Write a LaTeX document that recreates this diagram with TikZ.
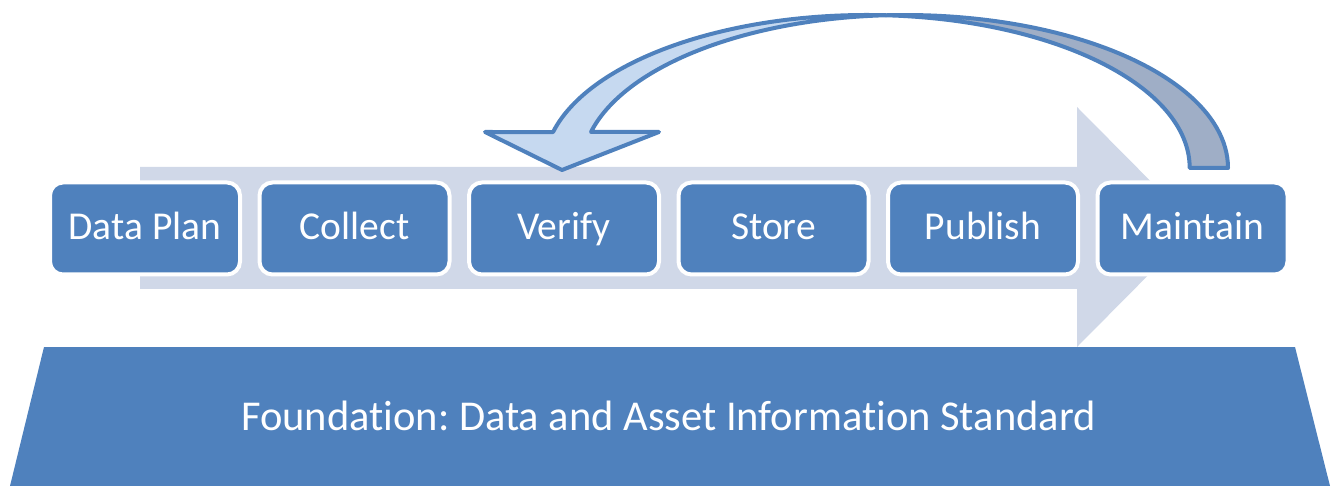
\documentclass[tikz,border=0pt]{standalone}
\usepackage{fontspec}
\setmainfont{Carlito}[Ligatures={NoCommon}]
\frenchspacing
\definecolor{boxblue}{HTML}{4F81BD}
\definecolor{bgarrow}{HTML}{D0D8E8}
\definecolor{lightarc}{HTML}{C6D9F0}
\definecolor{darkarc}{HTML}{9FAEC6}
\begin{document}
\begin{tikzpicture}[x=1pt,y=-1pt,
  stepbox/.style={rectangle, rounded corners=13pt, fill=boxblue, draw=white, line width=4pt,
    minimum width=190pt, minimum height=92pt, text=white, font=\fontsize{39.5}{47}\selectfont,
    inner sep=0pt, text height=30pt, text depth=7pt},
  ribbon/.style={draw=boxblue, line width=4pt, line join=round},
  ell/.style={x radius=323, y radius=153}]
\useasboundingbox (0,0) rectangle (1333,486);
% background process arrow
\fill[bgarrow] (140,167) -- (1077,167) -- (1077,107) -- (1196,227) -- (1077,347) -- (1077,289) -- (140,289) -- cycle;
% steps
\node[stepbox] (plan) at (145,228.5) {Data Plan};
\node[stepbox] (collect) at (354.5,228.5) {Collect};
\node[stepbox] (verify) at (564,228.5) {Verify};
\node[stepbox] (store) at (773.5,228.5) {Store};
\node[stepbox] (publish) at (983,228.5) {Publish};
\node[stepbox] (maintain) at (1192.5,228.5) {Maintain};
% foundation
\fill[boxblue] (44,347) -- (1295,347) -- (1330,486) -- (10,486) -- cycle;
\node[text=white, font=\fontsize{42.5}{50}\selectfont, inner sep=0pt, anchor=base] (found) at (668.5,430) {Foundation: Data and Asset Information Standard};
% curved feedback arrow (back part)
\filldraw[ribbon, fill=darkarc] (1228,168) arc[start angle=0, end angle=-93.4, ell]
  arc[start angle=-86.6, end angle=0, ell] -- cycle;
% curved feedback arrow (front part with head)
\filldraw[ribbon, fill=lightarc] (886.15,15.27) arc[start angle=-86.6, end angle=-166.4, ell]
  -- (485,132) -- (562,170) -- (659,132) -- (591,132)
  arc[start angle=-166.4, end angle=-93.4, ell] -- cycle;
\end{tikzpicture}
\end{document}
